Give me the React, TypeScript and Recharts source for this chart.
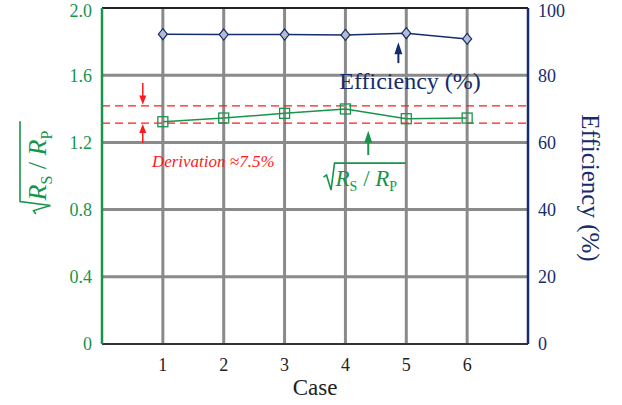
import {
  LineChart,
  Line,
  XAxis,
  YAxis,
  CartesianGrid,
  ReferenceLine,
  ReferenceDot,
} from 'recharts';

// Case numbers and the two measured series
const cases = [1, 2, 3, 4, 5, 6];
const ratio = [1.323, 1.345, 1.373, 1.399, 1.341, 1.345];
const efficiency = [92.2, 92.1, 92.1, 92.0, 92.5, 90.8];

// Axis ticks
const caseTicks = [1, 2, 3, 4, 5, 6];
const ratioTicks = [0, 0.4, 0.8, 1.2, 1.6, 2.0];
const effTicks = [0, 20, 40, 60, 80, 100];

// Deviation band limits
const bandLimits = [1.417, 1.315];

const data = cases.map((c, i) => ({ c, ratio: ratio[i], eff: efficiency[i] }));

const GREEN = '#17954a';
const NAVY = '#152d6c';
const GRID = '#8a8a8a';
const RED = '#ff1a1a';
const FONT = '"Liberation Serif", "Times New Roman", serif';

function Square(props: any) {
  const { cx, cy } = props;
  if (cx == null || cy == null) return null;
  return (
    <rect x={cx - 5} y={cy - 5} width={10} height={10} fill="none" stroke={GREEN} strokeWidth={1.3} />
  );
}

function Diamond(props: any) {
  const { cx, cy } = props;
  if (cx == null || cy == null) return null;
  return (
    <path
      d={`M${cx},${cy - 5.5} L${cx + 4.5},${cy} L${cx},${cy + 5.5} L${cx - 4.5},${cy} Z`}
      fill="#b4bcd2"
      stroke={NAVY}
      strokeWidth={1.2}
    />
  );
}

// radical sign + R_S / R_P, drawn from the start of the radical on the baseline
function SqrtLabel({ size }: { size: number }) {
  const k = size / 23;
  const sub = Math.round(size * 0.6);
  return (
    <g>
      <path
        d={`M0,${-9 * k} L${3 * k},${-11 * k} L${7.5 * k},${4 * k} L${11 * k},${-23 * k} L${82 * k},${-23 * k}`}
        fill="none"
        stroke={GREEN}
        strokeWidth={1.6}
      />
      <text x={12 * k} y={0} fontFamily={FONT} fontSize={size} fill={GREEN}>
        <tspan fontStyle="italic">R</tspan>
        <tspan fontSize={sub} dy={5 * k}>S</tspan>
        <tspan dy={-5 * k}>{' / '}</tspan>
        <tspan fontStyle="italic">R</tspan>
        <tspan fontSize={sub} dy={5 * k}>P</tspan>
      </text>
    </g>
  );
}

function head(dir: 'up' | 'down', color: string, w: number, h: number) {
  return (props: any) => {
    const { cx, cy } = props;
    if (cx == null || cy == null) return <g />;
    const s = dir === 'up' ? 1 : -1;
    return (
      <path
        d={`M${cx},${cy} L${cx - w / 2},${cy + s * h} L${cx + w / 2},${cy + s * h} Z`}
        fill={color}
        stroke="none"
      />
    );
  };
}

function textNote(content: React.ReactNode) {
  return (props: any) => {
    const { cx, cy } = props;
    if (cx == null || cy == null) return <g />;
    return <g transform={`translate(${cx},${cy})`}>{content}</g>;
  };
}

export default function App() {
  return (
    <div style={{ position: 'absolute', left: 0, top: 0, background: '#fff' }}>
      <LineChart
        width={622}
        height={405}
        data={data}
        margin={{ top: 8, right: 34, left: 42, bottom: 21 }}
      >
        <CartesianGrid
          yAxisId="left"
          stroke={GRID}
          strokeWidth={3}
          horizontalValues={[0.4, 0.8, 1.2, 1.6]}
          verticalValues={caseTicks}
        />
        <XAxis
          dataKey="c"
          type="number"
          domain={[0, 7]}
          ticks={caseTicks}
          allowDecimals={false}
          height={40}
          axisLine={{ stroke: '#333', strokeWidth: 2 }}
          tickLine={false}
          tick={{ fill: '#222', fontSize: 18, fontFamily: FONT, dy: 6 }}
          label={{
            value: 'Case',
            position: 'insideBottom',
            offset: -11,
            fill: '#222',
            fontSize: 23,
            fontFamily: FONT,
          }}
        />
        <YAxis
          yAxisId="left"
          domain={[0, 2]}
          ticks={ratioTicks}
          width={60}
          axisLine={{ stroke: GREEN, strokeWidth: 2.5 }}
          tickLine={false}
          tickFormatter={(v: number) => (v === 0 ? '0' : v.toFixed(1))}
          tick={{ fill: GREEN, fontSize: 18, fontFamily: FONT, dx: -2 }}
          label={{
            content: (p: any) => {
              const vb = p.viewBox;
              return (
                <g transform={`translate(${vb.x + 4},${vb.y + vb.height / 2 + 38}) rotate(-90)`}>
                  <SqrtLabel size={26} />
                </g>
              );
            },
          }}
        />
        <YAxis
          yAxisId="right"
          orientation="right"
          domain={[0, 100]}
          ticks={effTicks}
          width={60}
          axisLine={{ stroke: NAVY, strokeWidth: 2.5 }}
          tickLine={false}
          tick={{ fill: NAVY, fontSize: 18, fontFamily: FONT, dx: 2 }}
          label={{
            content: (p: any) => {
              const vb = p.viewBox;
              const x = vb.x + 62;
              const y = vb.y + vb.height / 2 + 12;
              return (
                <text
                  x={x}
                  y={y}
                  transform={`rotate(90, ${x}, ${y})`}
                  textAnchor="middle"
                  dominantBaseline="central"
                  fontFamily={FONT}
                  fontSize={25}
                  fill={NAVY}
                >
                  Efficiency (%)
                </text>
              );
            },
          }}
        />

        {/* top frame */}
        <ReferenceLine yAxisId="left" y={2} stroke="#222" strokeWidth={2} />

        {bandLimits.map((v) => (
          <ReferenceLine
            key={v}
            yAxisId="left"
            y={v}
            stroke={RED}
            strokeWidth={1.2}
            strokeDasharray="8 5"
          />
        ))}

        <Line
          yAxisId="left"
          dataKey="ratio"
          stroke={GREEN}
          strokeWidth={1.5}
          dot={<Square />}
          activeDot={false}
          isAnimationActive={false}
        />
        <Line
          yAxisId="right"
          dataKey="eff"
          stroke={NAVY}
          strokeWidth={1.5}
          dot={<Diamond />}
          activeDot={false}
          isAnimationActive={false}
        />

        {/* annotation arrows */}
        <ReferenceLine
          yAxisId="right"
          segment={[{ x: 4.87, y: 83.6 }, { x: 4.87, y: 88 }]}
          stroke={NAVY}
          strokeWidth={2}
        />
        <ReferenceDot yAxisId="right" x={4.87} y={89.8} r={0} shape={head('up', NAVY, 8, 12)} />

        <ReferenceLine
          yAxisId="left"
          segment={[{ x: 4.375, y: 1.125 }, { x: 4.375, y: 1.24 }]}
          stroke={GREEN}
          strokeWidth={2}
        />
        <ReferenceDot yAxisId="left" x={4.375} y={1.27} r={0} shape={head('up', GREEN, 8, 12)} />

        <ReferenceLine
          yAxisId="left"
          segment={[{ x: 0.67, y: 1.554 }, { x: 0.67, y: 1.46 }]}
          stroke={RED}
          strokeWidth={1.5}
        />
        <ReferenceDot yAxisId="left" x={0.67} y={1.426} r={0} shape={head('down', RED, 7, 9)} />
        <ReferenceLine
          yAxisId="left"
          segment={[{ x: 0.67, y: 1.196 }, { x: 0.67, y: 1.28 }]}
          stroke={RED}
          strokeWidth={1.5}
        />
        <ReferenceDot yAxisId="left" x={0.67} y={1.31} r={0} shape={head('up', RED, 7, 9)} />

        {/* annotation texts */}
        <ReferenceDot
          yAxisId="right"
          x={3.9}
          y={75.9}
          r={0}
          shape={textNote(
            <text fontFamily={FONT} fontSize={24} fill={NAVY}>
              Efficiency (%)
            </text>
          )}
        />
        <ReferenceDot
          yAxisId="left"
          x={0.82}
          y={1.054}
          r={0}
          shape={textNote(
            <text fontFamily={FONT} fontSize={17} fontStyle="italic" fill={RED}>
              Derivation ≈7.5%
            </text>
          )}
        />
        <ReferenceDot
          yAxisId="left"
          x={3.64}
          y={0.94}
          r={0}
          shape={textNote(<SqrtLabel size={23} />)}
        />
      </LineChart>
    </div>
  );
}
